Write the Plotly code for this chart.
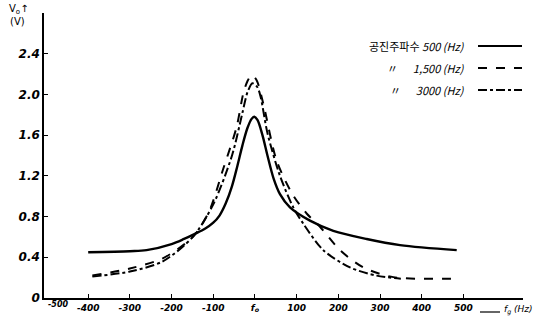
import plotly.graph_objects as go

# Frequency deviation from resonance f0 (Hz)
x_500 = [-400, -300, -260, -200, -170, -144, -120, -100, -85, -70, -55, -42, -30, -18, -8, -2, 6, 18, 30, 45, 60, 84, 132, 188, 268, 348, 484]
y_500 = [0.45, 0.46, 0.47, 0.53, 0.58, 0.63, 0.68, 0.74, 0.81, 0.93, 1.10, 1.30, 1.50, 1.67, 1.76, 1.78, 1.75, 1.60, 1.40, 1.17, 1.02, 0.89, 0.76, 0.66, 0.58, 0.52, 0.47]

x_1500 = [-390, -300, -221, -149, -110, -76, -44, -28, -18, -8, 4, 20, 52, 90, 124, 156, 204, 260, 332, 476]
y_1500 = [0.22, 0.29, 0.39, 0.60, 0.85, 1.27, 1.68, 2.01, 2.13, 2.19, 2.14, 1.91, 1.35, 1.02, 0.83, 0.70, 0.47, 0.30, 0.205, 0.19]

x_3000 = [-390, -300, -221, -149, -100, -55, -30, -18, -6, 6, 14, 30, 60, 92, 116, 164, 228, 292, 350]
y_3000 = [0.21, 0.26, 0.36, 0.60, 0.92, 1.40, 1.82, 2.02, 2.11, 2.07, 1.97, 1.62, 1.20, 0.89, 0.73, 0.47, 0.30, 0.22, 0.19]

x_ticks = [-400, -300, -200, -100, 0, 100, 200, 300, 400, 500]
x_ticklabels = ["-400", "-300", "-200", "-100", "f<sub>o</sub>", "100", "200", "300", "400", "500"]
x_origin_label = "-500"
y_ticks = [0, 0.4, 0.8, 1.2, 1.6, 2.0, 2.4]
y_ticklabels = ["0", "0.4", "0.8", "1.2", "1.6", "2.0", "2.4"]

series_names = ["공진주파수 500 (Hz)", "1,500 (Hz)", "3000 (Hz)"]

fig = go.Figure()
fig.add_trace(go.Scatter(x=x_500, y=y_500, mode="lines", line=dict(color="black", width=2.4, shape="spline", smoothing=0.9), name=series_names[0]))
fig.add_trace(go.Scatter(x=x_1500, y=y_1500, mode="lines", line=dict(color="black", width=2.0, dash="dash", shape="spline", smoothing=0.8), name=series_names[1]))
fig.add_trace(go.Scatter(x=x_3000, y=y_3000, mode="lines", line=dict(color="black", width=2.0, dash="dashdot", shape="spline", smoothing=0.8), name=series_names[2]))

W, H = 542, 320
L, R, T, B = 44, 19, 13, 22
xr = [-506, 643]
yr = [0, 2.8]

def xp(px):
    return (px - L) / (W - L - R)

def yp(py):
    return (H - B - py) / (H - T - B)

fig.update_layout(
    width=W, height=H,
    margin=dict(l=L, r=R, t=T, b=B, autoexpand=False),
    plot_bgcolor="white", paper_bgcolor="white",
    showlegend=False,
    font=dict(family="DejaVu Sans", size=11, color="black"),
    xaxis=dict(range=xr, automargin=False, showline=True, linecolor="black", linewidth=1.5, showgrid=False, zeroline=False,
               tickmode="array", tickvals=x_ticks, ticktext=x_ticklabels, ticks="inside", ticklen=4,
               tickcolor="black", tickfont=dict(family="DejaVu Sans", size=9, style="italic", weight="bold")),
    yaxis=dict(range=yr, automargin=False, showline=True, linecolor="black", linewidth=1.5, showgrid=False, zeroline=False,
               tickmode="array", tickvals=y_ticks, ticktext=y_ticklabels, ticks="inside", ticklen=4,
               tickcolor="black", tickfont=dict(family="DejaVu Sans", size=12, style="italic", weight="bold")),
)

# origin label of the x axis, set off to the right of the y "0"
fig.add_annotation(xref="paper", yref="paper", x=xp(46), y=yp(304), text=x_origin_label, showarrow=False,
                   xanchor="left", yanchor="middle",
                   font=dict(family="DejaVu Sans", size=8, style="italic", weight="bold", color="black"))

# legend (text left, line sample right)
rows = [(46, "공진주파수 <i>500 (Hz)</i>", "solid"), (68, "〃      <i>1,500 (Hz)</i>", "dash"), (90, "〃      <i>3000 (Hz)</i>", "dashdot")]
for py, txt, dash in rows:
    fig.add_annotation(xref="paper", yref="paper", x=xp(467), y=yp(py), text=txt, showarrow=False,
                       xanchor="right", yanchor="middle",
                       font=dict(family="Noto Sans CJK KR", size=11, color="black"))
    fig.add_shape(type="line", xref="paper", yref="paper", x0=xp(478), x1=xp(522), y0=yp(py), y1=yp(py),
                  line=dict(color="black", width=2 if dash == "solid" else 1.8, dash=dash))

# axis titles
fig.add_annotation(xref="paper", yref="paper", x=xp(19), y=yp(10), text="V<sub>o</sub>↑", showarrow=False,
                   xanchor="center", yanchor="middle", font=dict(family="DejaVu Sans", size=10, color="black"))
fig.add_annotation(xref="paper", yref="paper", x=xp(17), y=yp(22), text="(V)", showarrow=False,
                   xanchor="center", yanchor="middle", font=dict(family="DejaVu Sans", size=10, color="black"))
fig.add_shape(type="line", xref="paper", yref="paper", x0=xp(480), x1=xp(500), y0=yp(312), y1=yp(312),
              line=dict(color="black", width=1.2))
fig.add_annotation(xref="paper", yref="paper", x=xp(502), y=yp(310), text="<i>f<sub>g</sub> (Hz)</i>", showarrow=False,
                   xanchor="left", yanchor="middle", font=dict(family="DejaVu Sans", size=9, color="black"))

fig.write_html("out.html", config={"displayModeBar": False},
               post_script="document.body.style.margin='0';document.body.style.overflow='hidden';")
